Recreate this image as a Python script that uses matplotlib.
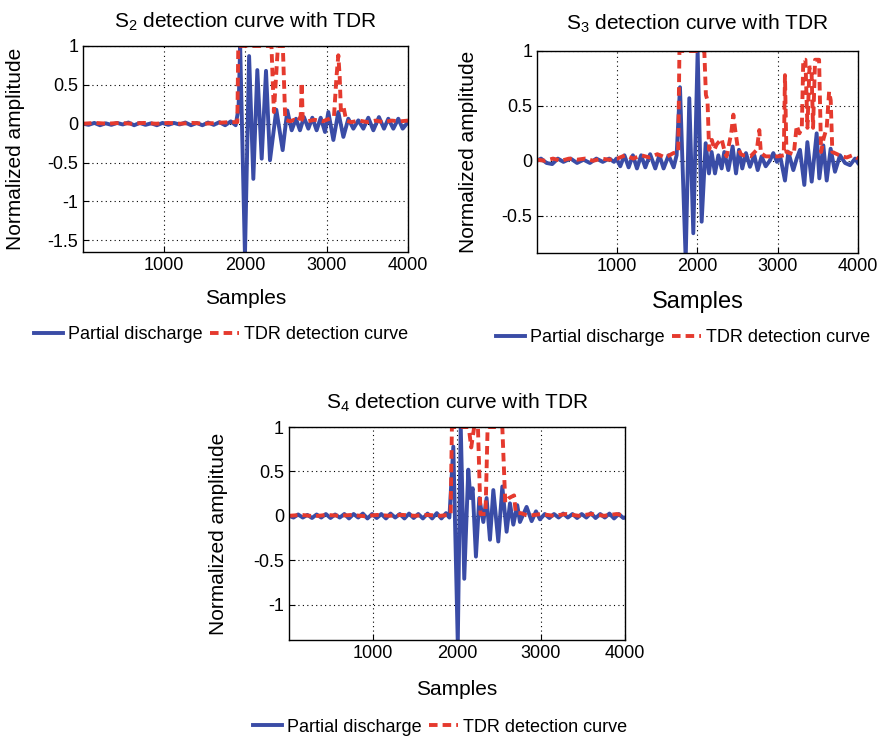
import matplotlib
matplotlib.use('Agg')
import matplotlib.pyplot as plt

plt.rcParams['font.family'] = ['Liberation Sans', 'DejaVu Sans']
plt.rcParams['mathtext.default'] = 'regular'

BLUE = '#3a4ca6'
RED = '#e53a2e'

# ---------------- S2 ----------------
s2_pd_x = [0, 70, 140, 210, 280, 350, 420, 490, 560, 630, 700, 770, 840, 910, 980,
           1050, 1120, 1190, 1260, 1330, 1400, 1470, 1540, 1610, 1680, 1750, 1820, 1880,
           1915, 1935, 1994, 2045, 2097, 2146, 2200, 2253, 2302, 2380, 2458, 2515,
           2569, 2622, 2671, 2720, 2774, 2823, 2876, 2926, 2979, 3020, 3082, 3143,
           3205, 3266, 3328, 3389, 3451, 3512, 3574, 3643, 3705, 3758, 3820, 3881,
           3935, 4000]
s2_pd_y = [0.0, -0.015, 0.01, -0.02, 0.005, -0.015, 0.01, -0.01, 0.015, -0.02, 0.01,
           -0.015, 0.005, -0.02, 0.01, -0.015, 0.01, -0.01, 0.015, -0.02, 0.01, -0.02,
           0.015, -0.015, 0.02, -0.02, 0.03, -0.02,
           0.2, 1.0, -1.7, 0.87, -0.71, 0.69, -0.45, 0.68, -0.47, 0.18, -0.34, 0.17,
           -0.085, 0.064, -0.085, 0.085, -0.064, 0.077, -0.085, 0.077, -0.107, 0.15,
           -0.21, 0.15, -0.17, 0.064, -0.064, 0.043, -0.064, 0.077, -0.085, 0.085,
           -0.064, 0.064, -0.064, 0.064, -0.064, 0.02]
s2_tdr_x = [0, 150, 300, 450, 600, 750, 900, 1050, 1200, 1350, 1500, 1650, 1800, 1900,
            1912, 2320, 2350, 2400, 2460, 2490, 2550, 2600, 2650, 2680, 2692, 2705,
            2760, 2850, 2950, 3050, 3090, 3120, 3143, 3160, 3175, 3210, 3240, 3300,
            3400, 3500, 3600, 3700, 3800, 3900, 4000]
s2_tdr_y = [0.0, 0.01, 0.0, 0.01, 0.0, 0.01, 0.0, 0.01, 0.0, 0.01, 0.0, 0.01, 0.02, 0.02,
            1.0, 1.0, 0.15, 1.0, 1.0, 0.05, 0.03, 0.05, 0.03, 0.1, 0.53, 0.05,
            0.03, 0.05, 0.03, 0.07, 0.1, 0.6, 0.88, 0.6, 0.15, 0.2, 0.04, 0.02,
            0.04, 0.02, 0.04, 0.02, 0.04, 0.03, 0.04]

# ---------------- S3 ----------------
s3_pd_x = [0, 50, 120, 190, 260, 330, 420, 500, 580, 660, 740, 820, 900, 960, 990,
           1038, 1090, 1142, 1195, 1246, 1298, 1350, 1410, 1474, 1525, 1578, 1640, 1703,
           1740, 1782, 1853, 1898, 1948, 2002, 2052, 2102, 2143, 2176, 2218, 2260,
           2301, 2334, 2384, 2438, 2480, 2517, 2558, 2604, 2654, 2708, 2750, 2799,
           2850, 2900, 2945, 2990, 3028, 3090, 3132, 3194, 3236, 3277, 3331, 3369,
           3423, 3485, 3518, 3568, 3610, 3659, 3713, 3776, 3838, 3900, 3963, 4000]
s3_pd_y = [0.0, 0.02, -0.02, -0.03, 0.02, -0.01, 0.02, -0.02, 0.01, -0.02, 0.02, -0.01,
           0.02, -0.01, 0.02, -0.05, 0.05, -0.06, 0.05, -0.07, 0.05, -0.06, 0.06, -0.07,
           0.05, -0.07, 0.05, -0.06, 0.05, 0.67, -0.9, 0.57, -0.66, 1.0, -0.555, 0.16,
           -0.115, 0.08, -0.115, 0.05, -0.07, 0.08, -0.085, 0.13, -0.115, 0.1, -0.07,
           0.07, -0.055, 0.05, -0.085, 0.04, -0.05, 0.0, 0.07, -0.01, 0.05, -0.18,
           0.08, -0.085, 0.02, 0.1, -0.22, 0.17, -0.19, 0.25, -0.16, 0.14, -0.18, 0.11,
           -0.1, 0.05, -0.02, -0.04, 0.02, -0.02]
s3_tdr_x = [0, 100, 200, 300, 400, 500, 600, 700, 800, 900, 1000, 1100, 1200, 1300,
            1400, 1500, 1600, 1700, 1760, 1775, 2085, 2105, 2125, 2145, 2180, 2210,
            2240, 2300, 2340, 2363, 2420, 2447, 2470, 2500, 2540, 2571, 2660, 2740,
            2770, 2790, 2850, 2950, 3007, 3075, 3090, 3108, 3200, 3236, 3270, 3300,
            3318, 3345, 3370, 3395, 3420, 3440, 3465, 3515, 3540, 3570, 3610, 3640,
            3660, 3680, 3740, 3800, 3860, 3930, 4000]
s3_tdr_y = [0.01, 0.0, 0.02, 0.0, 0.02, 0.01, 0.02, 0.0, 0.02, 0.01, 0.02, 0.05, 0.02,
            0.05, 0.03, 0.06, 0.03, 0.07, 0.08, 1.0, 1.0, 0.6, 0.55, 0.1, 0.19, 0.1,
            0.15, 0.2, 0.08, 0.04, 0.25, 0.42, 0.28, 0.13, 0.06, 0.05, 0.04, 0.1,
            0.28, 0.07, 0.04, 0.04, 0.04, 0.05, 0.78, 0.08, 0.06, 0.32, 0.25, 0.3,
            0.92, 0.92, 0.3, 0.85, 0.85, 0.3, 0.92, 0.92, 0.08, 0.2, 0.3, 0.63,
            0.55, 0.08, 0.06, 0.04, 0.03, 0.05, 0.02]

# ---------------- S4 ----------------
s4_pd_x = [0, 55, 110, 165, 220, 275, 330, 385, 440, 495, 550, 605, 660, 715, 770,
           825, 880, 935, 990, 1045, 1100, 1155, 1210, 1265, 1320, 1375, 1430, 1485,
           1540, 1595, 1650, 1705, 1760, 1815, 1870, 1910, 1957, 2010, 2045, 2087,
           2135, 2160, 2187, 2226, 2266, 2314, 2353, 2393, 2433, 2492, 2540, 2591,
           2631, 2671, 2718, 2750, 2829, 2889, 2941, 2988, 3045, 3100, 3155, 3210,
           3265, 3320, 3375, 3430, 3485, 3540, 3595, 3650, 3705, 3760, 3815, 3870,
           3925, 3980, 4000]
s4_pd_y = [0.0, -0.02, 0.015, -0.02, 0.01, -0.025, 0.015, -0.02, 0.02, -0.025, 0.015,
           -0.02, 0.02, -0.03, 0.02, -0.02, 0.025, -0.03, 0.02, -0.025, 0.02, -0.03,
           0.025, -0.02, 0.02, -0.03, 0.025, -0.025, 0.02, -0.03, 0.025, -0.03, 0.03,
           -0.03, 0.03, -0.02, 0.78, -1.45, 1.02, -0.71, 0.52, 0.2, 0.31, -0.46, 0.2,
           -0.07, 0.2, -0.27, 0.29, -0.29, 0.33, -0.18, 0.14, -0.1, 0.12, -0.07, 0.1,
           -0.06, 0.05, -0.04, 0.02, -0.025, 0.02, -0.02, 0.025, -0.02, 0.02, -0.025,
           0.02, -0.02, 0.03, -0.025, 0.02, -0.02, 0.025, -0.03, 0.02, -0.025, -0.02]
s4_tdr_x = [0, 150, 300, 450, 600, 750, 900, 1050, 1200, 1350, 1500, 1650, 1800, 1900,
            1925, 1940, 2140, 2170, 2205, 2250, 2280, 2340, 2365, 2540, 2575, 2620,
            2680, 2700, 2760, 2850, 3000, 3150, 3300, 3450, 3600, 3750, 3900, 4000]
s4_tdr_y = [0.0, 0.01, -0.005, 0.01, 0.0, 0.01, -0.005, 0.01, 0.0, 0.01, 0.0, 0.01,
            0.0, 0.01, 0.02, 1.0, 1.0, 0.77, 1.0, 1.0, 0.02, 0.02, 1.0, 1.0, 0.15,
            0.2, 0.23, 0.03, 0.03, 0.0, 0.02, 0.0, 0.02, 0.0, 0.02, 0.0, 0.02, 0.0]

panels = [
    dict(rect=[0.0939, 0.6595, 0.3676, 0.2784], sub='2', x=(s2_pd_x, s2_pd_y, s2_tdr_x, s2_tdr_y),
         ylim=(-1.65, 1), yticks=[-1.5, -1, -0.5, 0, 0.5, 1], ylab_x=-0.178, xlab_y=-0.18,
         xlab_size=15, leg=(221, 335), pad=13),
    dict(rect=[0.6075, 0.6581, 0.3631, 0.2730], sub='3', x=(s3_pd_x, s3_pd_y, s3_tdr_x, s3_tdr_y),
         ylim=(-0.84, 1), yticks=[-0.5, 0, 0.5, 1], ylab_x=-0.184, xlab_y=-0.19,
         xlab_size=17, leg=(683, 338), pad=15),
    dict(rect=[0.3269, 0.1351, 0.3801, 0.2878], sub='4', x=(s4_pd_x, s4_pd_y, s4_tdr_x, s4_tdr_y),
         ylim=(-1.4, 1), yticks=[-1, -0.5, 0, 0.5, 1], ylab_x=-0.18, xlab_y=-0.19,
         xlab_size=15, leg=(440, 727), pad=13),
]

fig = plt.figure(figsize=(8.84, 7.4), dpi=100)

for p in panels:
    ax = fig.add_axes(p['rect'])
    px, py, tx, ty = p['x']
    ax.plot(px, py, color=BLUE, lw=2.8, label='Partial discharge')
    ax.plot(tx, ty, color=RED, lw=2.8, linestyle=(0, (2.2, 1.3)), label='TDR detection curve')
    ax.set_xlim(1, 4000)
    ax.set_ylim(*p['ylim'])
    ax.set_xticks([1000, 2000, 3000, 4000])
    ax.set_yticks(p['yticks'])
    ax.set_yticklabels(['%g' % v for v in p['yticks']])
    ax.tick_params(direction='in', labelsize=13, length=4)
    ax.grid(True, color='black', linestyle=(0, (1, 3)), lw=0.8)
    for sp in ax.spines.values():
        sp.set_linewidth(1.0)
    ax.set_title('S$_{%s}$ detection curve with TDR' % p['sub'], fontsize=15, pad=p['pad'])
    ax.set_ylabel('Normalized amplitude', fontsize=15)
    ax.yaxis.set_label_coords(p['ylab_x'], 0.5)
    ax.set_xlabel('Samples', fontsize=p['xlab_size'])
    ax.xaxis.set_label_coords(0.5, p['xlab_y'])
    cx, cy = p['leg']
    ax.legend(loc='center', bbox_to_anchor=(cx / 884, 1 - cy / 740),
              bbox_transform=fig.transFigure, ncol=2, frameon=False, fontsize=13,
              handlelength=1.6, handletextpad=0.3, columnspacing=0.4)

fig.savefig('out.png', dpi=100)
